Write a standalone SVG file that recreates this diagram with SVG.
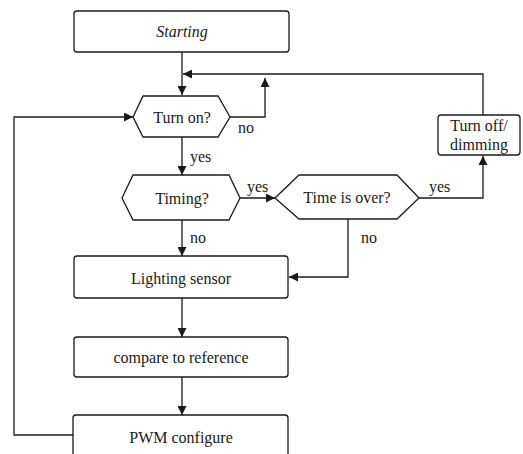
<svg xmlns="http://www.w3.org/2000/svg" width="523" height="454" viewBox="0 0 523 454">
<defs>
<marker id="ah" viewBox="0 0 10 10" refX="10" refY="5" markerWidth="9" markerHeight="9" markerUnits="userSpaceOnUse" orient="auto">
<path d="M0,0 L10,5 L0,10 z" fill="#1a1a1a"/>
</marker>
</defs>
<rect width="523" height="454" fill="#fff"/>
<g id="connectors" fill="none" stroke="#1a1a1a" stroke-width="1.3">
<path d="M182,52 V95" marker-end="url(#ah)"/>
<path d="M483,115 V74 H183" marker-end="url(#ah)"/>
<path d="M230,117 H265 V78" marker-end="url(#ah)"/>
<path d="M73,435 H14 V117 H133" marker-end="url(#ah)"/>
<path d="M182,137 V175" marker-end="url(#ah)"/>
<path d="M240,198 H275" marker-end="url(#ah)"/>
<path d="M419,198 H483 V156" marker-end="url(#ah)"/>
<path d="M348,219 V277 H289" marker-end="url(#ah)"/>
<path d="M182,220 V256" marker-end="url(#ah)"/>
<path d="M182,298 V337" marker-end="url(#ah)"/>
<path d="M182,377 V415" marker-end="url(#ah)"/>
</g>
<g id="labels" fill="#1a1a1a">
<text x="238" y="133" font-family="Liberation Serif" font-size="16" style="font-family:'Liberation Serif',serif">no</text>
<text x="190" y="162" font-family="Liberation Serif" font-size="16" style="font-family:'Liberation Serif',serif">yes</text>
<text x="247" y="192" font-family="Liberation Serif" font-size="16" style="font-family:'Liberation Serif',serif">yes</text>
<text x="429" y="192" font-family="Liberation Serif" font-size="16" style="font-family:'Liberation Serif',serif">yes</text>
<text x="361" y="243" font-family="Liberation Serif" font-size="16" style="font-family:'Liberation Serif',serif">no</text>
<text x="190" y="243" font-family="Liberation Serif" font-size="16" style="font-family:'Liberation Serif',serif">no</text>
</g>
<g id="starting">
<rect x="74" y="11" width="215" height="41" rx="3" fill="#fff" stroke="#1a1a1a" stroke-width="1.3"/>
<text x="182" y="37" text-anchor="middle" font-style="italic" font-family="Liberation Serif" font-size="16" fill="#1a1a1a" style="font-family:'Liberation Serif',serif">Starting</text>
</g>
<g id="turn-on">
<polygon points="133,117 143,96 218,96 230,117 218,137 143,137" fill="#fff" stroke="#1a1a1a" stroke-width="1.3"/>
<text x="182" y="122.5" text-anchor="middle" font-family="Liberation Serif" font-size="16" fill="#1a1a1a" style="font-family:'Liberation Serif',serif">Turn on?</text>
</g>
<g id="turn-off">
<rect x="438" y="115" width="82" height="40" rx="3" fill="#fff" stroke="#1a1a1a" stroke-width="1.3"/>
<text x="479" y="130.5" text-anchor="middle" font-family="Liberation Serif" font-size="16" fill="#1a1a1a" style="font-family:'Liberation Serif',serif">Turn off/</text>
<text x="479" y="149.5" text-anchor="middle" font-family="Liberation Serif" font-size="16" fill="#1a1a1a" style="font-family:'Liberation Serif',serif">dimming</text>
</g>
<g id="timing">
<polygon points="122,198 133,175 229,175 240,198 229,220 133,220" fill="#fff" stroke="#1a1a1a" stroke-width="1.3"/>
<text x="182" y="203.5" text-anchor="middle" font-family="Liberation Serif" font-size="16" fill="#1a1a1a" style="font-family:'Liberation Serif',serif">Timing?</text>
</g>
<g id="time-over">
<polygon points="275,198 299,175 397,175 419,198 397,219 299,219" fill="#fff" stroke="#1a1a1a" stroke-width="1.3"/>
<text x="347" y="202.5" text-anchor="middle" font-family="Liberation Serif" font-size="16" fill="#1a1a1a" style="font-family:'Liberation Serif',serif">Time is over?</text>
</g>
<g id="lighting-sensor">
<rect x="74" y="256" width="214" height="42" rx="3" fill="#fff" stroke="#1a1a1a" stroke-width="1.3"/>
<text x="181" y="283.5" text-anchor="middle" font-family="Liberation Serif" font-size="16" fill="#1a1a1a" style="font-family:'Liberation Serif',serif">Lighting sensor</text>
</g>
<g id="compare">
<rect x="74" y="337" width="214" height="40" rx="3" fill="#fff" stroke="#1a1a1a" stroke-width="1.3"/>
<text x="181" y="362.5" text-anchor="middle" font-family="Liberation Serif" font-size="16" fill="#1a1a1a" style="font-family:'Liberation Serif',serif">compare to reference</text>
</g>
<g id="pwm">
<rect x="73" y="415" width="215" height="50" rx="3" fill="#fff" stroke="#1a1a1a" stroke-width="1.3"/>
<text x="181" y="442.5" text-anchor="middle" font-family="Liberation Serif" font-size="16" fill="#1a1a1a" style="font-family:'Liberation Serif',serif">PWM configure</text>
</g>
</svg>
